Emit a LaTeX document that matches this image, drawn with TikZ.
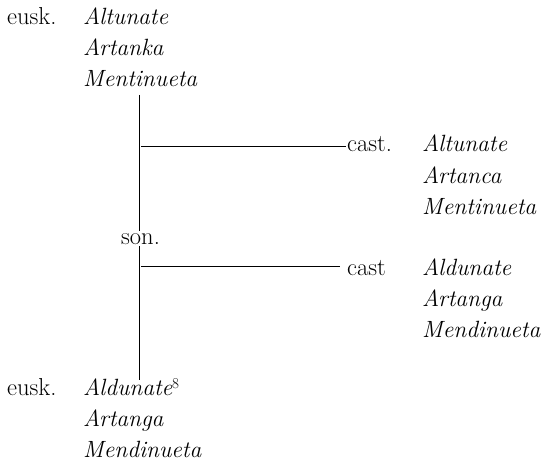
\documentclass[tikz,border=0pt]{standalone}
\begin{document}
\begin{tikzpicture}[x=1pt,y=-1pt,
  lbl/.style={anchor=base west,inner sep=0pt,font=\fontsize{24.5}{28}\selectfont},
  nm/.style={anchor=base west,inner sep=0pt,font=\fontsize{23.5}{28}\selectfont\itshape},
  ln/.style={line width=1pt}]
\useasboundingbox (0,0) rectangle (545,465);
% top group
\node[lbl] (e1) at (7,25) {eusk.};
\node[nm] (t1) at (83,25) {Altunate};
\node[nm] (t2) at (83,56) {Artanka};
\node[nm] (t3) at (83,87) {Mentinueta};
% upper right
\node[lbl] (c1) at (347,152) {cast.};
\node[nm] (u1) at (422,152) {Altunate};
\node[nm] (u2) at (422,183) {Artanca};
\node[nm] (u3) at (422,214) {Mentinueta};
% son
\node[lbl] (son) at (121,244) {son.};
% lower right
\node[lbl] (c2) at (347,275) {cast};
\node[nm] (l1) at (422,275) {Aldunate};
\node[nm] (l2) at (422,306) {Artanga};
\node[nm] (l3) at (422,337) {Mendinueta};
% bottom group
\node[lbl] (e2) at (7,395) {eusk.};
\node[nm] (b1) at (83,395) {Aldunate\raisebox{7pt}{\upshape\fontsize{15}{15}\selectfont 8}};
\node[nm] (b2) at (83,426) {Artanga};
\node[nm] (b3) at (83,457) {Mendinueta};
% lines
\coordinate (vtop) at (139,95);
\coordinate (va) at (139,231);
\coordinate (vb) at (139,246);
\coordinate (vbot) at (139,380);
\coordinate (h1) at (141,147);
\coordinate (h2) at (141,266);
\draw[ln] (vtop) -- (va);
\draw[ln] (vb) -- (vbot);
\draw[ln] (h1) -- ([xshift=-1pt]c1.west |- h1);
\draw[ln] (h2) -- (h2 -| 340,0);
\end{tikzpicture}
\end{document}
